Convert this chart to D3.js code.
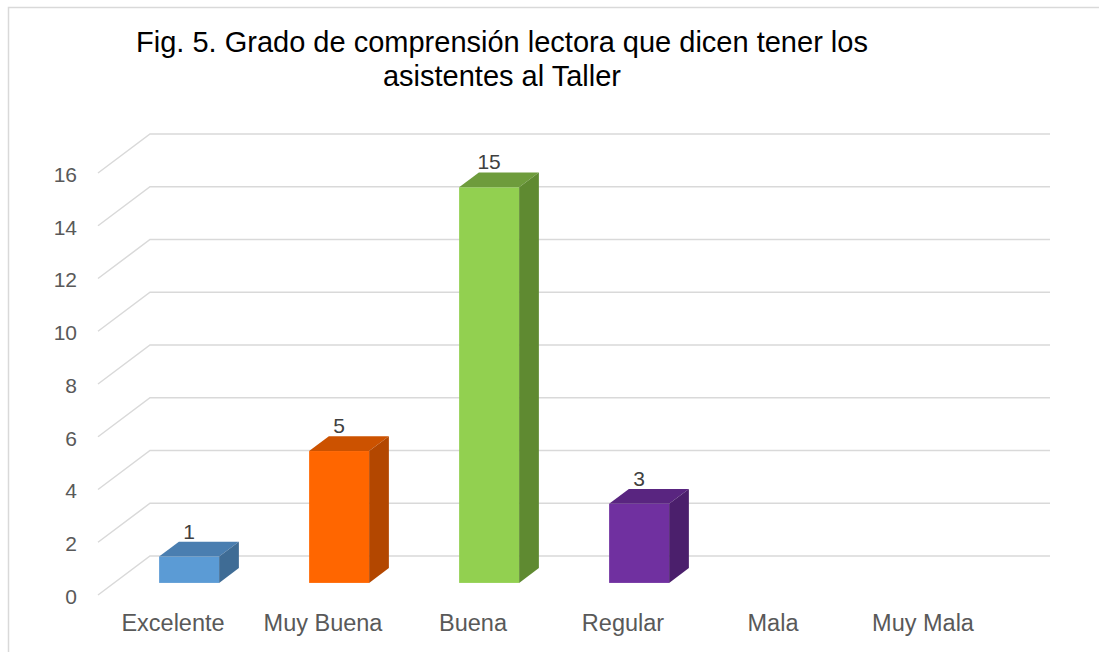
<!DOCTYPE html>
<html>
<head>
    <meta charset="utf-8"/>
    <title>Grado de comprensión lectora</title>
    <script src="https://d3js.org/d3.v7.min.js"></script>
    <style>
        body { margin: 0; background: #fff; }
        .tick text { fill: #595959; font-family: "Liberation Sans", Arial, sans-serif; }
    </style>
</head>
<body>
    <div id="chart"></div>
    <script>
        // data
        var categories = ["Excelente", "Muy Buena", "Buena", "Regular", "Mala", "Muy Mala"];
        var values = [1, 5, 15, 3, null, null];
        var yTicks = [0, 2, 4, 6, 8, 10, 12, 14, 16];
        var frontColors = ["#5b9bd5", "#ff6600", "#92d050", "#7030a0", "#999", "#999"];
        var sideColors = ["#3f6c95", "#b34700", "#5f8a31", "#4b1f6c", "#666", "#666"];
        var topColors = ["#4a7eb0", "#cc5200", "#6e9c3c", "#592580", "#777", "#777"];

        var W = 1099, H = 652;
        // depth offset of the 3d floor
        var DX = 52, DY = 39;
        var f0 = 0.31, f1 = 0.69;

        var svg = d3.select("#chart").append("svg")
            .attr("width", W).attr("height", H);

        // chart border
        svg.append("rect")
            .attr("x", 8.5).attr("y", 7.5)
            .attr("width", W + 10).attr("height", H + 10)
            .attr("fill", "none").attr("stroke", "#d9d9d9")
            .attr("stroke-width", 1.5);

        var x = d3.scaleBand()
            .domain(categories)
            .range([98, 998])
            .paddingInner(0.6)
            .paddingOuter(0.3);

        var y = d3.scaleLinear()
            .domain([0, 16])
            .range([595, 173]);

        // gridlines (front-left -> back-left -> back-right)
        svg.selectAll(".grid")
            .data(yTicks)
            .enter()
            .append("polyline")
            .attr("class", "grid")
            .attr("fill", "none")
            .attr("stroke", "#d9d9d9")
            .attr("stroke-width", 1.5)
            .attr("points", function(d) {
                var yf = y(d);
                return [[98, yf], [98 + DX, yf - DY], [998 + DX, yf - DY]].join(" ");
            });

        // y axis labels
        var yAxis = svg.append("g")
            .attr("transform", "translate(88,1)")
            .call(d3.axisLeft(y).tickValues(yTicks).tickSize(0).tickPadding(11));
        yAxis.select(".domain").remove();
        yAxis.selectAll("text").attr("font-size", 21).attr("dy", "0.35em");

        // x axis labels
        var xAxis = svg.append("g")
            .attr("transform", "translate(0,631)")
            .call(d3.axisBottom(x).tickSize(0).tickPadding(0));
        xAxis.select(".domain").remove();
        xAxis.selectAll("text").attr("font-size", 23.5).attr("dy", 0);

        // bars
        var bars = categories.map(function(c, i) {
            return { cat: c, v: values[i], i: i };
        }).filter(function(d) { return d.v != null; });

        var ddx = DX * (f1 - f0), ddy = DY * (f1 - f0);

        var g = svg.selectAll(".bar")
            .data(bars)
            .enter()
            .append("g")
            .attr("class", "bar");

        function geom(d) {
            var x0 = x(d.cat) + DX * f0;
            var w = x.bandwidth();
            var yt = y(d.v) - DY * f0;
            var yb = y(0) - DY * f0;
            return { x0: x0, w: w, yt: yt, yb: yb };
        }

        g.append("rect")
            .attr("x", function(d) { return geom(d).x0; })
            .attr("y", function(d) { return geom(d).yt; })
            .attr("width", x.bandwidth())
            .attr("height", function(d) { var q = geom(d); return q.yb - q.yt; })
            .attr("fill", function(d) { return frontColors[d.i]; });

        g.append("polygon")
            .attr("points", function(d) {
                var q = geom(d);
                return [[q.x0, q.yt], [q.x0 + q.w, q.yt], [q.x0 + q.w + ddx, q.yt - ddy], [q.x0 + ddx, q.yt - ddy]].join(" ");
            })
            .attr("fill", function(d) { return topColors[d.i]; });

        g.append("polygon")
            .attr("points", function(d) {
                var q = geom(d);
                return [[q.x0 + q.w, q.yt], [q.x0 + q.w + ddx, q.yt - ddy], [q.x0 + q.w + ddx, q.yb - ddy], [q.x0 + q.w, q.yb]].join(" ");
            })
            .attr("fill", function(d) { return sideColors[d.i]; });

        // data labels
        g.append("text")
            .attr("x", function(d) { var q = geom(d); return q.x0 + q.w / 2; })
            .attr("y", function(d) { return geom(d).yt - ddy - 3; })
            .attr("text-anchor", "middle")
            .attr("font-family", "Liberation Sans, Arial, sans-serif")
            .attr("font-size", 21)
            .attr("fill", "#404040")
            .text(function(d) { return d.v; });

        // title
        var title = svg.append("text")
            .attr("text-anchor", "middle")
            .attr("font-family", "Liberation Sans, Arial, sans-serif")
            .attr("font-size", 29)
            .attr("fill", "#000");
        title.append("tspan").attr("x", 502).attr("y", 52)
            .text("Fig. 5. Grado de comprensión lectora que dicen tener los");
        title.append("tspan").attr("x", 502).attr("y", 86)
            .text("asistentes al Taller");
    </script>
</body>
</html>
